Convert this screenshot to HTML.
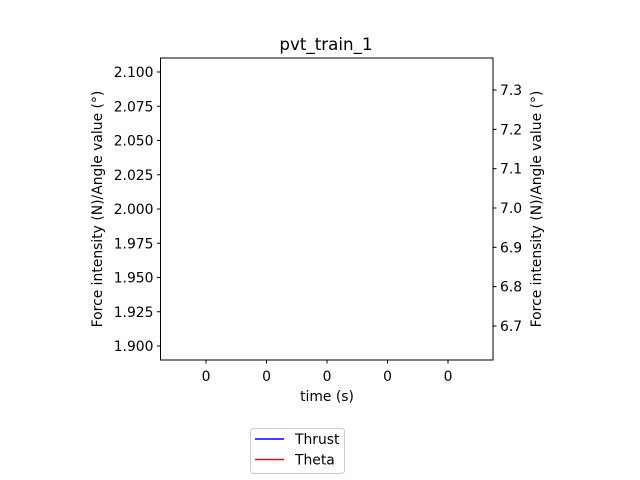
<!DOCTYPE html>
<html><head><meta charset="utf-8"><style>body{margin:0;background:#fff}svg{display:block;font-family:"DejaVu Sans","Liberation Sans",sans-serif}</style></head>
<body>
<svg id="chart" width="640" height="480"></svg>
<script>
const leftTicks=[1.900,1.925,1.950,1.975,2.000,2.025,2.050,2.075,2.100];
const rightTicks=[6.7,6.8,6.9,7.0,7.1,7.2,7.3];
const xTickLabels=["0","0","0","0","0"];
const seriesNames=["Thrust","Theta"];
const seriesColors=["blue","red"];
const L=160.5,R=493,T=58,B=360;
const yL=v=>346-(v-1.9)/0.2*274;
const yR=v=>326-(v-6.7)/0.6*236;
const xX=i=>206+i*60.5;
const s=document.getElementById('chart');
const NS='http://www.w3.org/2000/svg';
function mk(tag,attrs,txt){const e=document.createElementNS(NS,tag);for(const k in attrs)e.setAttribute(k,attrs[k]);if(txt!==undefined)e.textContent=txt;s.appendChild(e);return e;}
let e;
e=mk('rect',{x:L,y:T,width:R-L,height:B-T,fill:'none',stroke:'#000','stroke-width':1});


e=mk('text',{x:326,y:50,'text-anchor':'middle','font-size':16.7},'pvt_train_1');


leftTicks.forEach(v=>{const y=yL(v);
mk('line',{x1:L-3.5,x2:L,y1:y,y2:y,stroke:'#000'});
e=mk('text',{x:L-7,y:y+5,'text-anchor':'end','font-size':13.9},v.toFixed(3));

});
rightTicks.forEach(v=>{const y=yR(v);
mk('line',{x1:R,x2:R+3.5,y1:y,y2:y,stroke:'#000'});
e=mk('text',{x:R+7,y:y+5,'text-anchor':'start','font-size':13.9},v.toFixed(1));

});
xTickLabels.forEach((t,i)=>{const x=xX(i);
mk('line',{x1:x,x2:x,y1:B,y2:B+3.5,stroke:'#000'});
e=mk('text',{x:x,y:B+21,'text-anchor':'middle','font-size':13.9},t);

});
e=mk('text',{x:327,y:401,'text-anchor':'middle','font-size':13.9},'time (s)');


e=mk('text',{x:0,y:0,'text-anchor':'middle','font-size':13.9,transform:'translate(102,209) rotate(-90)'},'Force intensity (N)/Angle value (°)');


e=mk('text',{x:0,y:0,'text-anchor':'middle','font-size':13.9,transform:'translate(541,209) rotate(-90)'},'Force intensity (N)/Angle value (°)');


e=mk('rect',{x:250.5,y:428.5,width:94,height:45,rx:3,fill:'#fff',stroke:'#ccc'});


seriesNames.forEach((n,i)=>{const y=439+i*20.5;
e=mk('line',{x1:255,x2:284,y1:y,y2:y,stroke:seriesColors[i],'stroke-width':1.5});


e=mk('text',{x:295,y:y+5,'font-size':13.9},n);

});
</script>
</body></html>
